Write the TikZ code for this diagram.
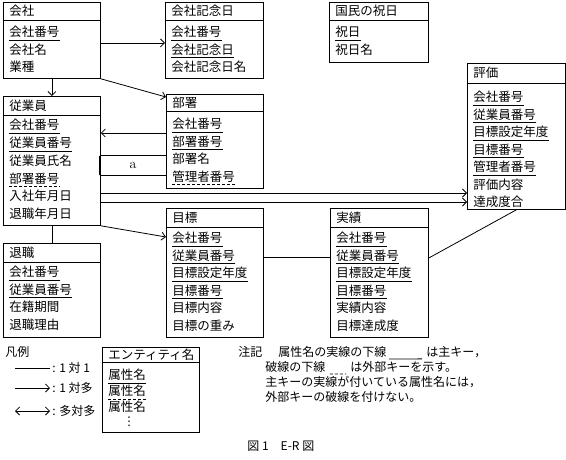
\documentclass[tikz,border=0pt]{standalone}
\usepackage{fontspec}
\newfontfamily\jp{Noto Sans CJK JP}
\newfontfamily\dv{DejaVu Sans}
\usetikzlibrary{arrows.meta}
\begin{document}
\begin{tikzpicture}[x=1pt,y=-1pt,line width=0.8pt,
  every node/.style={font=\jp\fontsize{12}{14}\selectfont},
  box/.style={draw,anchor=north west,inner sep=0pt},
  attr/.style={anchor=west,inner sep=0pt,font=\jp\fontsize{12.5}{14}\selectfont},
  note/.style={anchor=west,inner sep=0pt},
  pkey/.style={append after command={([yshift=-3.5pt]\tikzlastnode.base west) edge[draw,line width=0.7pt] ([yshift=-3.5pt]\tikzlastnode.base east)}},
  fkey/.style={append after command={([yshift=-3.5pt]\tikzlastnode.base west) edge[draw,line width=0.7pt,dash pattern=on 3pt off 2pt] ([yshift=-3.5pt]\tikzlastnode.base east)}},
  nkey/.style={},
  arr/.style={-{Straight Barb[length=4pt,width=8pt]}},
  arrb/.style={{Straight Barb[length=4pt,width=8pt]}-{Straight Barb[length=4pt,width=8pt]}},
  blank/.style={inner sep=0pt,minimum width=66pt,minimum height=19pt,font=\rmfamily\fontsize{14}{16}\selectfont}
]
\useasboundingbox (0,0) rectangle (566,460);

% ---------- 会社
\node[box,minimum width=97pt,minimum height=76pt] (kaisha) at (3,2) {};
\draw (kaisha.west |- 0,20) -- (kaisha.east |- 0,20);
\node[attr] (kaisha-h) at (9,11) {会社};
\foreach \t/\k [count=\i] in {会社番号/pkey,会社名/nkey,業種/nkey}
  \node[attr,\k] (kaisha-\i) at (9,{14.5+17.5*\i}) {\t};

% ---------- 会社記念日
\node[box,minimum width=98pt,minimum height=76pt] (kinen) at (165,2) {};
\draw (kinen.west |- 0,20) -- (kinen.east |- 0,20);
\node[attr] (kinen-h) at (171,11) {会社記念日};
\foreach \t/\k [count=\i] in {会社番号/pkey,会社記念日/pkey,会社記念日名/nkey}
  \node[attr,\k] (kinen-\i) at (171,{14.5+17.5*\i}) {\t};

% ---------- 国民の祝日
\node[box,minimum width=99pt,minimum height=60pt] (shuku) at (329,2) {};
\draw (shuku.west |- 0,20) -- (shuku.east |- 0,20);
\node[attr] (shuku-h) at (335,11) {国民の祝日};
\foreach \t/\k [count=\i] in {祝日/pkey,祝日名/nkey}
  \node[attr,\k] (shuku-\i) at (335,{14.5+17.5*\i}) {\t};

% ---------- 従業員
\node[box,minimum width=97pt,minimum height=129pt] (jugyo) at (3,96) {};
\draw (jugyo.west |- 0,115) -- (jugyo.east |- 0,115);
\node[attr] (jugyo-h) at (9,105.5) {従業員};
\foreach \t/\k [count=\i] in {会社番号/pkey,従業員番号/pkey,従業員氏名/nkey,部署番号/fkey,入社年月日/nkey,退職年月日/nkey}
  \node[attr,\k] (jugyo-\i) at (9,{107.5+17.7*\i}) {\t};

% ---------- 部署
\node[box,minimum width=97pt,minimum height=94pt] (busho) at (166,94) {};
\draw (busho.west |- 0,111) -- (busho.east |- 0,111);
\node[attr] (busho-h) at (172,102.5) {部署};
\foreach \t/\k [count=\i] in {会社番号/pkey,部署番号/pkey,部署名/nkey,管理者番号/fkey}
  \node[attr,\k] (busho-\i) at (172,{106.5+17.5*\i}) {\t};

% ---------- 評価
\node[box,minimum width=98pt,minimum height=146pt] (hyoka) at (467,63) {};
\draw (hyoka.west |- 0,83) -- (hyoka.east |- 0,83);
\node[attr] (hyoka-h) at (473,73) {評価};
\foreach \t/\k [count=\i] in {会社番号/pkey,従業員番号/pkey,目標設定年度/pkey,目標番号/pkey,管理者番号/pkey,評価内容/nkey,達成度合/nkey}
  \node[attr,\k] (hyoka-\i) at (473,{79.5+17.5*\i}) {\t};

% ---------- 目標
\node[box,minimum width=97pt,minimum height=129pt] (mokuhyo) at (166,208) {};
\draw (mokuhyo.west |- 0,227) -- (mokuhyo.east |- 0,227);
\node[attr] (mokuhyo-h) at (172,217.5) {目標};
\foreach \t/\k [count=\i] in {会社番号/pkey,従業員番号/pkey,目標設定年度/pkey,目標番号/pkey,目標内容/nkey,目標の重み/nkey}
  \node[attr,\k] (mokuhyo-\i) at (172,{220.5+17.5*\i}) {\t};

% ---------- 実績
\node[box,minimum width=98pt,minimum height=129pt] (jisseki) at (330,208) {};
\draw (jisseki.west |- 0,227) -- (jisseki.east |- 0,227);
\node[attr] (jisseki-h) at (336,217.5) {実績};
\foreach \t/\k [count=\i] in {会社番号/pkey,従業員番号/pkey,目標設定年度/pkey,目標番号/pkey,実績内容/nkey,目標達成度/nkey}
  \node[attr,\k] (jisseki-\i) at (336,{220.5+17.5*\i}) {\t};

% ---------- 退職
\node[box,minimum width=97pt,minimum height=94pt] (taishoku) at (3,243) {};
\draw (taishoku.west |- 0,262) -- (taishoku.east |- 0,262);
\node[attr] (taishoku-h) at (9,252.5) {退職};
\foreach \t/\k [count=\i] in {会社番号/pkey,従業員番号/pkey,在籍期間/nkey,退職理由/nkey}
  \node[attr,\k] (taishoku-\i) at (9,{254.5+17.5*\i}) {\t};

% ---------- connectors
\draw[arr] (kaisha.east |- 0,43) -- (kinen.west |- 0,43);
\draw[arr] (kaisha.south east) -- (busho.west |- 0,97);
\draw[arr] (kaisha.south) -- (jugyo.north);
\draw[arr] (busho.west |- 0,133) -- (jugyo.east |- 0,133);
\node[blank] (a) at (133,165.5) {a};
\draw[line width=1.5pt,solid] (a.north west) -- (a.north east);
\draw[line width=1.5pt,solid] (a.south west) -- (a.south east);
\draw[line width=1.5pt,solid] (a.north west) -- (a.south west);
\draw[line width=1.5pt,solid] (a.north east) -- (a.south east);
\draw[arr] (jugyo.east |- 0,193) -- (hyoka.west |- 0,193);
\draw[arr] (jugyo.east |- 0,202) -- (hyoka.west |- 0,202);
\draw[arr] (jugyo.south east) -- (mokuhyo.west |- 0,237);
\draw (jugyo.south) -- (taishoku.north);
\draw (mokuhyo.east |- 0,257) -- (jisseki.west |- 0,257);
\draw (jisseki.east |- 0,258) -- (hyoka.south);

% ---------- legend
\node[note] (hanrei) at (5,352) {凡例};
\coordinate (l1a) at (15,368); \coordinate (l1b) at (50,368);
\coordinate (l2a) at (15,388); \coordinate (l2b) at (50,388);
\coordinate (l3a) at (15,411); \coordinate (l3b) at (50,411);
\draw (l1a) -- (l1b);
\draw[arr] (l2a) -- (l2b);
\draw[arrb] (l3a) -- (l3b);
\node[note] (l1t) at (52,368) {: 1 対 1};
\node[note] (l2t) at (52,388) {: 1 対多};
\node[note] (l3t) at (52,411) {: 多対多};

\node[box,minimum width=97pt,minimum height=85pt] (legend) at (102,347) {};
\draw (legend.west |- 0,362) -- (legend.east |- 0,362);
\node[attr] (legend-h) at (108,354.5) {エンティティ名};
\foreach \t/\k [count=\i] in {属性名/pkey,属性名/fkey,属性名/nkey}
  \node[attr,\k] (legend-\i) at (108,{359+16*\i}) {\t};
\node[inner sep=0pt,font=\dv\fontsize{12}{14}\selectfont] (legend-dots) at (129,422) {⋮};

% ---------- notes
\node[note] (chuki) at (238,352) {注記};
\node[note] (n1a) at (278,352) {属性名の実線の下線};
\node[note] (n1b) at (426,352) {は主キー，};
\draw[line width=0.8pt] ([xshift=2pt,yshift=-2.5pt]n1a.base east) -- ([xshift=-4pt,yshift=-2.5pt]n1b.base west);
\node[note] (n2a) at (265,367) {破線の下線};
\node[note] (n2b) at (350,367) {は外部キーを示す。};
\draw[line width=0.8pt,dash pattern=on 3pt off 2pt] ([xshift=4pt,yshift=-2.5pt]n2a.base east) -- ([xshift=-4pt,yshift=-2.5pt]n2b.base west);
\node[note] (n3) at (265,382) {主キーの実線が付いている属性名には，};
\node[note] (n4) at (265,397) {外部キーの破線を付けない。};

% ---------- caption
\node[note] (cap) at (247,446) {図 1　E-R 図};
\end{tikzpicture}
\end{document}
